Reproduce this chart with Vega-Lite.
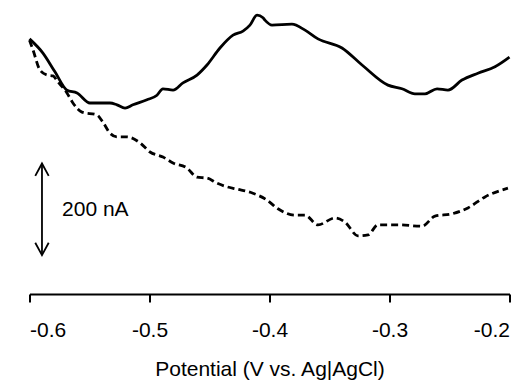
{
  "$schema": "https://vega.github.io/schema/vega-lite/v6.json",
  "autosize": {"type": "none"},
  "width": 480,
  "height": 284,
  "padding": {"left": 29.5, "top": 10, "right": 20.5, "bottom": 87},
  "background": "white",
  "config": {
    "view": {"stroke": null},
    "font": "Liberation Sans",
    "axis": {
      "domainColor": "black", "domainWidth": 2,
      "tickColor": "black", "tickWidth": 2, "tickSize": 8,
      "labelColor": "black", "labelFontSize": 21, "labelPadding": 17,
      "titleColor": "black", "titleFontSize": 21, "titleFontWeight": "normal", "titlePadding": 18,
      "grid": false
    }
  },
  "datasets": {
    "solid": [
      {"x": -0.6, "v": 557}, {"x": -0.5888, "v": 526}, {"x": -0.5788, "v": 485}, {"x": -0.5688, "v": 445},
      {"x": -0.5604, "v": 439}, {"x": -0.5496, "v": 417}, {"x": -0.5329, "v": 417}, {"x": -0.5271, "v": 413},
      {"x": -0.5204, "v": 406}, {"x": -0.5138, "v": 413}, {"x": -0.5021, "v": 424}, {"x": -0.4938, "v": 434},
      {"x": -0.4888, "v": 448}, {"x": -0.4804, "v": 445}, {"x": -0.4721, "v": 461}, {"x": -0.4604, "v": 478},
      {"x": -0.4521, "v": 500}, {"x": -0.4413, "v": 537}, {"x": -0.4304, "v": 565}, {"x": -0.4221, "v": 574},
      {"x": -0.4163, "v": 587}, {"x": -0.4104, "v": 609}, {"x": -0.4054, "v": 603}, {"x": -0.4038, "v": 598},
      {"x": -0.3979, "v": 587}, {"x": -0.3813, "v": 589}, {"x": -0.3704, "v": 576}, {"x": -0.3596, "v": 557},
      {"x": -0.3396, "v": 537}, {"x": -0.3229, "v": 500}, {"x": -0.3013, "v": 456}, {"x": -0.2896, "v": 448},
      {"x": -0.2788, "v": 437}, {"x": -0.2704, "v": 437}, {"x": -0.2604, "v": 448}, {"x": -0.2513, "v": 445},
      {"x": -0.2396, "v": 467}, {"x": -0.2263, "v": 482}, {"x": -0.2121, "v": 496}, {"x": -0.2, "v": 517}
    ],
    "dashed": [
      {"x": -0.6, "v": 554}, {"x": -0.5971, "v": 533}, {"x": -0.5913, "v": 489}, {"x": -0.5854, "v": 478},
      {"x": -0.5804, "v": 476}, {"x": -0.5763, "v": 463}, {"x": -0.5688, "v": 439}, {"x": -0.5638, "v": 417},
      {"x": -0.5563, "v": 397}, {"x": -0.5438, "v": 391}, {"x": -0.5388, "v": 375}, {"x": -0.5329, "v": 351},
      {"x": -0.5271, "v": 343}, {"x": -0.5188, "v": 343}, {"x": -0.5079, "v": 330}, {"x": -0.4996, "v": 310},
      {"x": -0.4888, "v": 299}, {"x": -0.4804, "v": 286}, {"x": -0.4688, "v": 275}, {"x": -0.4604, "v": 255},
      {"x": -0.4521, "v": 253}, {"x": -0.4438, "v": 242}, {"x": -0.4354, "v": 234}, {"x": -0.4271, "v": 229},
      {"x": -0.4138, "v": 220}, {"x": -0.4021, "v": 205}, {"x": -0.3929, "v": 186}, {"x": -0.3788, "v": 172},
      {"x": -0.3704, "v": 172}, {"x": -0.3596, "v": 151}, {"x": -0.3454, "v": 166}, {"x": -0.3371, "v": 157},
      {"x": -0.3263, "v": 127}, {"x": -0.3179, "v": 129}, {"x": -0.3096, "v": 151}, {"x": -0.2929, "v": 151},
      {"x": -0.2729, "v": 148}, {"x": -0.2621, "v": 170}, {"x": -0.2479, "v": 175}, {"x": -0.2346, "v": 188},
      {"x": -0.2204, "v": 212}, {"x": -0.2013, "v": 231}
    ],
    "arrow": [
      {"part": "shaft", "o": 1, "x": -0.5896, "v": 85}, {"part": "shaft", "o": 2, "x": -0.5896, "v": 285},
      {"part": "top", "o": 1, "x": -0.5952, "v": 258}, {"part": "top", "o": 2, "x": -0.5896, "v": 285}, {"part": "top", "o": 3, "x": -0.5840, "v": 258},
      {"part": "bottom", "o": 1, "x": -0.5952, "v": 112}, {"part": "bottom", "o": 2, "x": -0.5896, "v": 85}, {"part": "bottom", "o": 3, "x": -0.5840, "v": 112}
    ],
    "label": [{"x": -0.5729, "v": 183, "text": "200 nA"}]
  },
  "encoding": {
    "x": {"field": "x", "type": "quantitative", "scale": {"domain": [-0.6, -0.2], "nice": false, "zero": false},
          "axis": {"values": [-0.6, -0.5, -0.4, -0.3, -0.2], "labelExpr": "replace(format(datum.value, '.1f'), '\u2212', '-')", "title": "Potential (V vs. Ag|AgCl)"}},
    "y": {"field": "v", "type": "quantitative", "scale": {"domain": [0, 620], "nice": false, "zero": false}, "axis": null}
  },
  "layer": [
    {"data": {"name": "solid"}, "mark": {"type": "line", "color": "black", "strokeWidth": 2.8, "interpolate": "monotone"}},
    {"data": {"name": "dashed"}, "mark": {"type": "line", "color": "black", "strokeWidth": 2.8, "strokeDash": [7, 4], "interpolate": "monotone"}},
    {"data": {"name": "arrow"}, "mark": {"type": "line", "color": "black", "strokeWidth": 1.8},
     "encoding": {"detail": {"field": "part"}, "order": {"field": "o"}}},
    {"data": {"name": "label"}, "mark": {"type": "text", "align": "left", "baseline": "middle", "fontSize": 21, "color": "black"},
     "encoding": {"text": {"field": "text"}}}
  ]
}
